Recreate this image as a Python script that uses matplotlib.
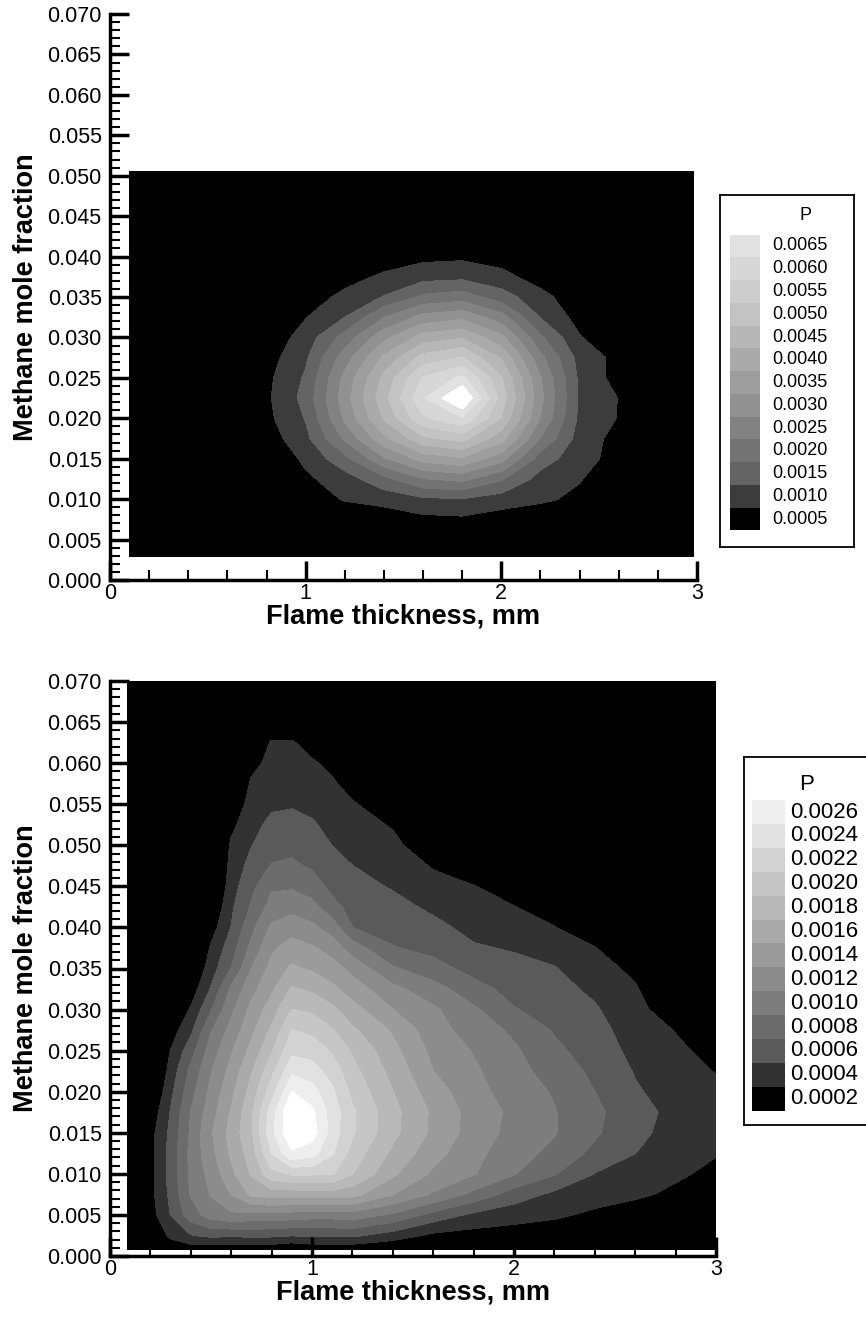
import numpy as np
import matplotlib.pyplot as plt
from matplotlib.ticker import MultipleLocator, FormatStrFormatter

plt.rcParams['font.family'] = ['Liberation Sans', 'DejaVu Sans']

# ---- top panel: P field (units of 1e-4) on a rectilinear grid ----
top_x = [0.1, 0.4, 0.6, 0.8, 1.0, 1.2, 1.4, 1.6, 1.8, 2.0, 2.2, 2.4, 2.6, 2.8, 2.98]
top_y = [0.003, 0.005, 0.0075, 0.010, 0.0125, 0.015, 0.0175, 0.020, 0.0225, 0.025,
         0.0275, 0.030, 0.0325, 0.035, 0.0375, 0.040, 0.0425, 0.045, 0.0475, 0.0505]
top_p = [
    [0, 0, 0, 0, 0, 0, 0, 0, 0, 0, 0, 0, 0, 0, 0],
    [0, 0, 0, 0, 0, 0, 2.0, 3.2, 3.5, 2.5, 0, 0, 0, 0, 0],
    [0, 0, 0, 0, 0.5, 4.0, 6.8, 8.6, 9.0, 7.4, 3.7, 0, 0, 0, 0],
    [0, 0, 0, 0, 6.0, 10.5, 11.8, 13.9, 14.5, 12.5, 11.5, 8.0, 1.0, 0, 0],
    [0, 0, 0, 2.6, 9.0, 12.6, 18.4, 24.6, 26.2, 20.5, 12.9, 10.5, 3.0, 0, 0],
    [0, 0, 0, 5.3, 11.0, 18.3, 29.1, 36.8, 38.9, 31.7, 17.4, 12.0, 8.0, 0.6, 0],
    [0, 0, 1.1, 7.3, 13.5, 25.7, 38.5, 48.6, 51.7, 41.7, 24.6, 12.7, 8.2, 3.4, 0],
    [0, 0, 2.3, 8.6, 15.2, 30.7, 45.4, 58.9, 64.3, 49.4, 29.5, 13.7, 9.7, 5.5, 1.5],
    [0, 0, 2.5, 9.0, 16.6, 32.5, 48.1, 64.1, 76.0, 52.5, 31.2, 14.0, 9.8, 5.6, 1.6],
    [0, 0, 2.3, 8.7, 15.6, 31.2, 46.1, 60.2, 66.0, 50.2, 30.0, 13.8, 8.0, 5.5, 1.5],
    [0, 0, 1.5, 7.7, 14.0, 27.4, 40.8, 51.7, 55.2, 44.2, 26.2, 13.0, 8.4, 3.7, 0],
    [0, 0, 0.2, 6.2, 12.2, 21.7, 33.3, 41.9, 44.3, 36.1, 20.7, 10.3, 5.0, 1.2, 0],
    [0, 0, 0, 4.2, 9.7, 14.8, 24.6, 31.5, 33.4, 26.9, 14.6, 8.0, 3.1, 0, 0],
    [0, 0, 0, 1.7, 6.9, 11.4, 15.2, 20.9, 22.4, 17.1, 11.7, 6.3, 0, 0, 0],
    [0, 0, 0, 0, 3.6, 7.8, 10.9, 13.0, 13.5, 11.6, 7.5, 2.0, 0, 0, 0],
    [0, 0, 0, 0, 0.2, 4.0, 6.8, 8.6, 9.0, 7.4, 3.7, 0, 0, 0, 0],
    [0, 0, 0, 0, 0, 0, 2.0, 3.9, 4.3, 3.0, 0, 0, 0, 0, 0],
    [0, 0, 0, 0, 0, 0, 0, 0, 0, 0, 0, 0, 0, 0, 0],
    [0, 0, 0, 0, 0, 0, 0, 0, 0, 0, 0, 0, 0, 0, 0],
    [0, 0, 0, 0, 0, 0, 0, 0, 0, 0, 0, 0, 0, 0, 0],
]
top_levels = [0.0005, 0.0010, 0.0015, 0.0020, 0.0025, 0.0030, 0.0035,
              0.0040, 0.0045, 0.0050, 0.0055, 0.0060, 0.0065]
top_labels = ['0.0005', '0.0010', '0.0015', '0.0020', '0.0025', '0.0030', '0.0035',
              '0.0040', '0.0045', '0.0050', '0.0055', '0.0060', '0.0065']
top_grays = [0, 60, 100, 115, 130, 145, 158, 170, 183, 195, 205, 215, 225]

# ---- bottom panel ----
bot_x = [0.09, 0.2, 0.3, 0.4, 0.5, 0.6, 0.7, 0.8, 0.9, 1.0, 1.1, 1.2, 1.4, 1.6,
         1.8, 2.0, 2.2, 2.4, 2.6, 2.8, 3.0]
bot_y = [0.0008, 0.0025, 0.005, 0.0075, 0.010, 0.0125, 0.015, 0.0175, 0.020, 0.0225,
         0.025, 0.0275, 0.030, 0.0325, 0.035, 0.0375, 0.040, 0.0425, 0.045, 0.0475,
         0.050, 0.0525, 0.055, 0.0575, 0.060, 0.0625, 0.065, 0.070]
bot_p = [
    [0, 0.5, 2.5, 2.8, 2.5, 2.5, 2.5, 2.5, 2.0, 2.5, 2.5, 2.5, 2.0, 1.5, 1.0, 1.0, 1.0, 0.8, 0.5, 0.3, 0],
    [0, 2.0, 4.4, 5.8, 6.4, 6.2, 6.4, 6.3, 6.0, 6.2, 6.2, 6.3, 5.0, 3.5, 3.2, 3.0, 2.8, 2.2, 1.8, 1.2, 0.8],
    [0, 3.0, 6.0, 9.0, 10.8, 11.6, 11.3, 11.3, 11.1, 10.8, 10.8, 11.0, 9.6, 7.2, 5.5, 4.8, 4.3, 3.6, 3.0, 2.3, 1.8],
    [0, 3.3, 6.4, 10.1, 12.1, 14.0, 16.3, 16.8, 16.7, 16.8, 16.8, 16.6, 14.0, 11.7, 9.4, 7.0, 5.5, 4.8, 4.3, 3.6, 2.7],
    [0, 3.3, 6.7, 10.35, 12.7, 15.4, 18.15, 21.3, 22.2, 22.2, 22.1, 20.0, 16.3, 13.6, 12.1, 10.1, 8.1, 5.9, 5.15, 4.3, 3.5],
    [0, 3.3, 6.7, 10.5, 13.3, 16.3, 18.9, 24.0, 27.6, 26.7, 24.2, 21.1, 17.5, 14.7, 12.6, 10.7, 9.5, 7.4, 6.0, 4.9, 4.1],
    [0, 3.2, 6.4, 10.25, 13.7, 16.7, 19.6, 25.3, 29.8, 28.9, 25.0, 22.2, 18.5, 15.5, 13.1, 11.3, 10.1, 8.3, 6.4, 5.4, 4.6],
    [0, 2.5, 6.05, 10.0, 13.1, 16.1, 19.6, 24.9, 30.1, 28.4, 25.0, 22.3, 18.6, 15.6, 13.2, 11.5, 10.1, 8.5, 6.5, 5.6, 4.7],
    [0, 1.5, 5.4, 9.2, 12.5, 15.4, 18.7, 23.0, 28.0, 26.75, 24.3, 21.4, 18.0, 14.9, 12.7, 11.0, 9.8, 8.0, 6.2, 5.2, 4.4],
    [0, 0.5, 4.7, 8.45, 11.8, 14.6, 17.75, 21.3, 25.5, 24.9, 23.1, 20.6, 17.3, 14.0, 12.3, 10.7, 9.1, 7.55, 5.85, 4.8, 3.9],
    [0, 0, 4.0, 7.1, 10.9, 13.7, 16.5, 19.7, 23.4, 23.1, 21.7, 19.7, 16.6, 13.4, 11.85, 10.3, 8.4, 7.1, 5.4, 4.4, 3.3],
    [0, 0, 3.0, 5.4, 9.8, 12.6, 15.4, 18.3, 22.0, 21.5, 20.1, 18.3, 15.7, 12.8, 11.1, 9.6, 7.8, 6.7, 5.0, 3.9, 2.6],
    [0, 0, 2.0, 4.15, 7.8, 11.5, 14.5, 16.9, 20.0, 19.6, 18.4, 16.7, 14.0, 12.3, 10.3, 8.1, 7.2, 6.2, 4.6, 2.8, 1.8],
    [0, 0, 1.0, 2.8, 6.1, 10.3, 13.3, 15.6, 18.2, 17.6, 16.4, 15.0, 12.5, 10.8, 8.7, 7.3, 6.6, 5.6, 4.2, 1.6, 0.8],
    [0, 0, 0.3, 1.5, 5.0, 8.0, 11.9, 14.6, 16.3, 15.7, 14.8, 13.3, 10.2, 8.7, 7.3, 6.6, 6.1, 4.8, 3.5, 0.5, 0],
    [0, 0, 0, 0.2, 4.2, 7.0, 10.5, 13.6, 14.8, 14.2, 13.1, 10.9, 8.1, 7.4, 6.2, 5.8, 5.1, 4.05, 2.2, 0, 0],
    [0, 0, 0, 0, 3.0, 6.0, 9.4, 12.3, 13.1, 12.4, 11.0, 8.0, 7.3, 6.5, 5.4, 4.9, 4.05, 2.7, 1.0, 0, 0],
    [0, 0, 0, 0, 1.75, 5.6, 8.2, 10.7, 11.3, 10.6, 8.6, 7.3, 6.6, 5.6, 4.7, 4.05, 2.8, 1.4, 0, 0, 0],
    [0, 0, 0, 0, 0.5, 5.1, 7.4, 9.7, 9.7, 8.9, 7.4, 6.7, 5.8, 4.7, 4.05, 2.8, 1.5, 0.2, 0, 0, 0],
    [0, 0, 0, 0, 0, 4.7, 6.6, 8.1, 8.3, 7.7, 6.7, 6.0, 5.2, 3.8, 2.7, 1.5, 0.3, 0, 0, 0, 0],
    [0, 0, 0, 0, 0, 4.3, 5.9, 7.2, 7.5, 6.9, 5.95, 5.4, 4.5, 2.5, 1.3, 0.3, 0, 0, 0, 0, 0],
    [0, 0, 0, 0, 0, 3.4, 5.4, 6.4, 6.6, 6.2, 5.4, 4.8, 3.8, 1.2, 0, 0, 0, 0, 0, 0, 0],
    [0, 0, 0, 0, 0, 2.0, 4.9, 5.7, 5.8, 5.5, 4.9, 4.2, 2.5, 0, 0, 0, 0, 0, 0, 0, 0],
    [0, 0, 0, 0, 0, 0.3, 4.3, 5.1, 5.2, 4.9, 4.3, 3.0, 1.0, 0, 0, 0, 0, 0, 0, 0, 0],
    [0, 0, 0, 0, 0, 0, 3.3, 4.6, 4.6, 4.25, 3.4, 1.3, 0, 0, 0, 0, 0, 0, 0, 0, 0],
    [0, 0, 0, 0, 0, 0, 1.7, 4.2, 4.2, 3.0, 1.5, 0, 0, 0, 0, 0, 0, 0, 0, 0, 0],
    [0, 0, 0, 0, 0, 0, 0, 2.0, 2.0, 1.3, 0, 0, 0, 0, 0, 0, 0, 0, 0, 0, 0],
    [0, 0, 0, 0, 0, 0, 0, 0, 0, 0, 0, 0, 0, 0, 0, 0, 0, 0, 0, 0, 0],
]
bot_levels = [0.0002, 0.0004, 0.0006, 0.0008, 0.0010, 0.0012, 0.0014,
              0.0016, 0.0018, 0.0020, 0.0022, 0.0024, 0.0026]
bot_labels = ['0.0002', '0.0004', '0.0006', '0.0008', '0.0010', '0.0012', '0.0014',
              '0.0016', '0.0018', '0.0020', '0.0022', '0.0024', '0.0026']
bot_grays = [0, 50, 90, 108, 125, 140, 155, 170, 185, 198, 210, 225, 238]

fig = plt.figure(figsize=(8.66, 13.17), dpi=100)


def style_axes(ax):
    ax.set_xlim(0, 3)
    ax.set_ylim(0, 0.07)
    ax.spines['top'].set_visible(False)
    ax.spines['right'].set_visible(False)
    ax.spines['left'].set_linewidth(2.5)
    ax.spines['bottom'].set_linewidth(2.5)
    ax.xaxis.set_major_locator(MultipleLocator(1))
    ax.xaxis.set_minor_locator(MultipleLocator(0.2))
    ax.yaxis.set_major_locator(MultipleLocator(0.005))
    ax.yaxis.set_minor_locator(MultipleLocator(0.001))
    ax.yaxis.set_major_formatter(FormatStrFormatter('%.3f'))
    ax.tick_params(which='both', direction='in', top=False, right=False, labelsize=15.5)
    ax.tick_params(axis='y', pad=6)
    ax.tick_params(axis='x', pad=2)
    ax.tick_params(which='major', length=14, width=2.5)
    ax.tick_params(which='minor', length=7, width=1.5)
    ax.set_xlabel('Flame thickness, mm', fontsize=19.5, fontweight='bold', labelpad=0)
    ax.set_ylabel('Methane mole fraction', fontsize=19.5, fontweight='bold', labelpad=6)


def draw_field(ax, xs, ys, vals, levels, grays):
    z = np.array(vals) * 1e-4
    step = levels[1] - levels[0]
    # below the second level everything is black, above the last one white
    bounds = [-1.0] + list(levels[1:]) + [levels[-1] + step, 1.0]
    cols = ['black'] + [(g / 255,) * 3 for g in grays[1:]] + ['white']
    cs = ax.contourf(xs, ys, z, levels=bounds, colors=cols)
    cs.set_edgecolor('face')
    cs.set_linewidth(0.6)


def draw_legend(rect, size, levels, labels, grays, fs, first_y, row_h, sw_x, sw_w, lab_x, p_xy):
    lax = fig.add_axes(rect)
    lax.set_xlim(0, size[0])
    lax.set_ylim(size[1], 0)
    lax.set_xticks([])
    lax.set_yticks([])
    for s in lax.spines.values():
        s.set_linewidth(1.3)
    order = list(range(len(levels)))[::-1]
    ypos = [first_y + k * row_h for k in range(len(order))]
    cols = [(grays[i] / 255,) * 3 for i in order]
    lax.barh(ypos, sw_w, left=sw_x, height=row_h, color=cols)
    for yp, i in zip(ypos, order):
        lax.text(lab_x, yp, labels[i], fontsize=fs, va='center', ha='left')
    lax.text(p_xy[0], p_xy[1], 'P', fontsize=fs, va='center', ha='center')


W, H = 866, 1317

ax1 = fig.add_axes([110 / W, 1 - 580 / H, 587 / W, 566 / H])
draw_field(ax1, top_x, top_y, top_p, top_levels, top_grays)
style_axes(ax1)

ax2 = fig.add_axes([110 / W, 1 - 1256 / H, 606 / W, 575 / H])
draw_field(ax2, bot_x, bot_y, bot_p, bot_levels, bot_grays)
style_axes(ax2)

draw_legend([720 / W, 1 - 547 / H, 134 / W, 352 / H], (134, 352),
            top_levels, top_labels, top_grays, 13, 51, 22.75, 10, 30, 52, (85, 20))
draw_legend([744 / W, 1 - 1125 / H, 140 / W, 368 / H], (140, 368),
            bot_levels, bot_labels, bot_grays, 16, 55, 23.9, 8, 33, 46, (63, 28))

fig.savefig('out.png', dpi=100)
